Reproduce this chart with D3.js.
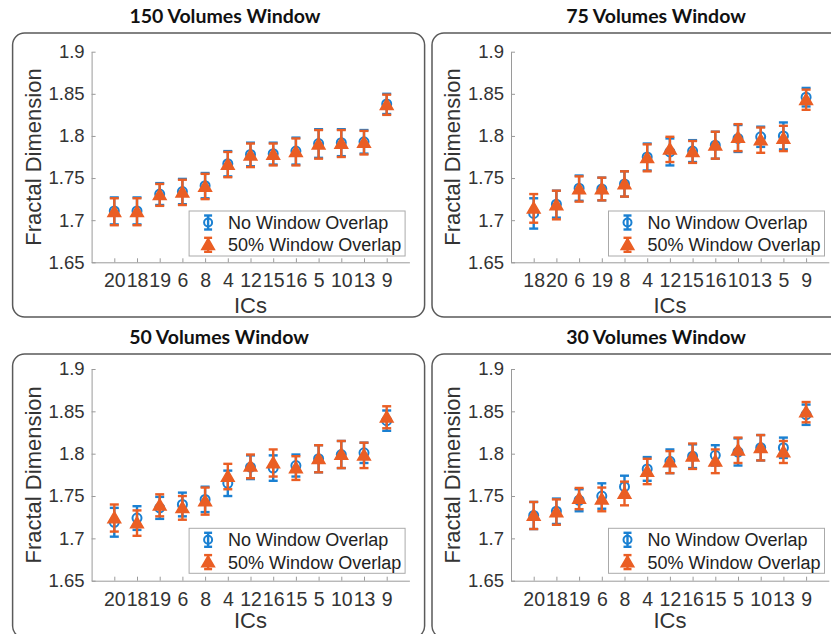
<!DOCTYPE html>
<html><head><meta charset="utf-8">
<script src="https://cdn.jsdelivr.net/npm/d3@7"></script>
<style>body{margin:0;background:#fff}svg{display:block}</style>
</head><body>
<script>
// ---------------- data ----------------
const titles = ["150 Volumes Window", "75 Volumes Window", "50 Volumes Window", "30 Volumes Window"];
const yTicks = [1.65, 1.7, 1.75, 1.8, 1.85, 1.9];
const yTickLabels = ["1.65", "1.7", "1.75", "1.8", "1.85", "1.9"];
const seriesNames = ["No Window Overlap", "50% Window Overlap"];

const icLabels150 = ["20","18","19","6","8","4","12","15","16","5","10","13","9"];
const noOverlap150 = [1.711,1.711,1.731,1.734,1.741,1.767,1.778,1.779,1.782,1.791,1.792,1.793,1.838];
const noOverlapErr150 = [0.016,0.016,0.013,0.015,0.015,0.015,0.014,0.013,0.016,0.017,0.016,0.014,0.012];
const overlap150 = [1.710,1.710,1.730,1.733,1.740,1.766,1.777,1.778,1.781,1.790,1.791,1.792,1.837];
const overlapErr150 = [0.016,0.016,0.013,0.015,0.015,0.015,0.014,0.013,0.016,0.017,0.016,0.014,0.012];

const icLabels75 = ["18","20","6","19","8","4","12","15","16","10","13","5","9"];
const noOverlap75 = [1.708,1.719,1.738,1.737,1.743,1.775,1.781,1.782,1.789,1.797,1.799,1.800,1.846];
const noOverlapErr75 = [0.018,0.016,0.015,0.0135,0.015,0.016,0.016,0.013,0.016,0.016,0.012,0.016,0.011];
const overlap75 = [1.714,1.718,1.737,1.737,1.743,1.774,1.784,1.781,1.789,1.798,1.795,1.797,1.843];
const overlapErr75 = [0.017,0.017,0.015,0.0135,0.015,0.016,0.015,0.013,0.016,0.016,0.015,0.015,0.012];

const icLabels50 = ["20","18","19","6","8","4","12","16","15","5","10","13","9"];
const noOverlap50 = [1.719,1.724,1.736,1.740,1.746,1.765,1.784,1.783,1.786,1.794,1.799,1.801,1.839];
const noOverlapErr50 = [0.017,0.014,0.013,0.014,0.015,0.015,0.014,0.015,0.013,0.016,0.016,0.012,0.012];
const overlap50 = [1.724,1.718,1.739,1.736,1.744,1.773,1.785,1.789,1.783,1.794,1.799,1.798,1.843];
const overlapErr50 = [0.016,0.015,0.013,0.014,0.016,0.015,0.014,0.016,0.014,0.016,0.016,0.015,0.013];

const icLabels30 = ["20","18","19","6","8","4","12","16","15","5","10","13","9"];
const noOverlap30 = [1.727,1.732,1.745,1.750,1.761,1.782,1.791,1.797,1.798,1.802,1.807,1.807,1.846];
const noOverlapErr30 = [0.016,0.015,0.013,0.015,0.013,0.014,0.014,0.014,0.012,0.016,0.015,0.012,0.012];
const overlap30 = [1.727,1.731,1.747,1.746,1.753,1.779,1.790,1.797,1.791,1.804,1.807,1.802,1.849];
const overlapErr30 = [0.016,0.015,0.0125,0.014,0.014,0.015,0.013,0.015,0.014,0.015,0.015,0.013,0.012];

const panels = [
  {title: titles[0], labels: icLabels150, a: noOverlap150, ae: noOverlapErr150, b: overlap150, be: overlapErr150},
  {title: titles[1], labels: icLabels75,  a: noOverlap75,  ae: noOverlapErr75,  b: overlap75,  be: overlapErr75},
  {title: titles[2], labels: icLabels50,  a: noOverlap50,  ae: noOverlapErr50,  b: overlap50,  be: overlapErr50},
  {title: titles[3], labels: icLabels30,  a: noOverlap30,  ae: noOverlapErr30,  b: overlap30,  be: overlapErr30}
];

// ---------------- layout ----------------
const W = 831, H = 634;
const colX = [91.6, 511];
const rows = [
  {titleY: 23, boxTop: 33, top: 51.7, bottom: 262.3, boxBottom: 317, icsY: 313},
  {titleY: 344, boxTop: 354, top: 369, bottom: 580.7, boxBottom: 638, icsY: 628}
];
const titleCx = [225, 656, 219, 656];
const step = 22.7;
const BLUE = "#1a80d2", ORANGE = "#ea5e24";
const tickFont = "'Liberation Sans', Arial, sans-serif";

const svg = d3.select("body").append("svg").attr("width", W).attr("height", H);
svg.append("rect").attr("width", W).attr("height", H).attr("fill", "#fff");

panels.forEach((p, i) => {
  const col = i % 2, row = rows[Math.floor(i / 2)];
  const ax = colX[col];
  const x = d3.scaleLinear().domain([0, 14]).range([ax, ax + 14 * step]);
  const y = d3.scaleLinear().domain([1.65, 1.9]).range([row.bottom, row.top]);
  const g = svg.append("g");

  // panel box
  g.append("rect")
    .attr("x", ax - 79).attr("y", row.boxTop)
    .attr("width", 412).attr("height", row.boxBottom - row.boxTop)
    .attr("rx", 12).attr("ry", 12)
    .attr("fill", "none").attr("stroke", "#5a5a5a").attr("stroke-width", 1.5);

  // title
  g.append("text").attr("x", titleCx[i]).attr("y", row.titleY)
    .attr("text-anchor", "middle")
    .style("font-family", "Lato, 'Open Sans', sans-serif").style("font-weight", 700)
    .style("font-size", "19.5px").attr("fill", "#111").text(p.title);

  // axes
  const xa = d3.axisBottom(x).tickValues(d3.range(1, 14))
    .tickFormat(d => p.labels[d - 1]).tickSizeInner(-4).tickSizeOuter(0).tickPadding(11);
  const gx = g.append("g").attr("transform", `translate(0,${row.bottom})`).call(xa);
  gx.select(".domain").attr("stroke", "#9a9a9a");
  gx.selectAll(".tick line").attr("stroke", "#9a9a9a");
  gx.selectAll("text").style("font-family", tickFont).style("font-size", "19.5px").attr("fill", "#333");

  const ya = d3.axisLeft(y).tickValues(yTicks)
    .tickFormat((d, k) => yTickLabels[k]).tickSizeInner(-4).tickSizeOuter(0).tickPadding(7);
  const gy = g.append("g").attr("transform", `translate(${ax},0)`).call(ya);
  gy.select(".domain").attr("stroke", "#9a9a9a");
  gy.selectAll(".tick line").attr("stroke", "#9a9a9a");
  gy.selectAll("text").style("font-family", tickFont).style("font-size", "18.5px").attr("fill", "#333");

  // axis labels
  g.append("text").attr("x", (x(0) + x(14)) / 2).attr("y", row.icsY)
    .attr("text-anchor", "middle").style("font-family", tickFont).style("font-size", "22px")
    .attr("fill", "#333").text("ICs");
  g.append("text")
    .attr("transform", `translate(${ax - 51},${(row.top + row.bottom) / 2}) rotate(-90)`)
    .attr("text-anchor", "middle").style("font-family", tickFont).style("font-size", "22px")
    .attr("fill", "#333").text("Fractal Dimension");

  // series
  const drawErr = (sel, vals, errs, color) => {
    vals.forEach((v, k) => {
      const cx = x(k + 1);
      const e = errs[k];
      sel.append("line").attr("x1", cx).attr("x2", cx).attr("y1", y(v - e)).attr("y2", y(v + e))
        .attr("stroke", color).attr("stroke-width", 2.4);
      [v - e, v + e].forEach(t => sel.append("line").attr("x1", cx - 4.5).attr("x2", cx + 4.5)
        .attr("y1", y(t)).attr("y2", y(t)).attr("stroke", color).attr("stroke-width", 2.4));
    });
  };
  const ga = g.append("g");
  drawErr(ga, p.a, p.ae, BLUE);
  ga.selectAll("circle").data(p.a).join("circle")
    .attr("cx", (d, k) => x(k + 1)).attr("cy", d => y(d)).attr("r", 4.5)
    .attr("fill", "none").attr("stroke", BLUE).attr("stroke-width", 2);
  const gb = g.append("g");
  drawErr(gb, p.b, p.be, ORANGE);
  const tri = d3.symbol().type(d3.symbolTriangle).size(70);
  gb.selectAll("path.tri").data(p.b).join("path").attr("class", "tri")
    .attr("transform", (d, k) => `translate(${x(k + 1)},${y(d) + 1})`)
    .attr("d", tri).attr("fill", ORANGE).attr("stroke", ORANGE).attr("stroke-width", 1.5);

  // legend
  const lx = ax + 97.5, ly = row.top + 159.3;
  const lg = g.append("g");
  lg.append("rect").attr("x", lx).attr("y", ly).attr("width", 216).attr("height", 45)
    .attr("fill", "#fff").attr("stroke", "#aaa").attr("stroke-width", 1);
  seriesNames.forEach((name, k) => {
    const cy = ly + 11.5 + k * 22.3;
    const mx = lx + 19;
    const color = k === 0 ? BLUE : ORANGE;
    lg.append("line").attr("x1", mx).attr("x2", mx).attr("y1", cy - 7).attr("y2", cy + 7)
      .attr("stroke", color).attr("stroke-width", 2.4);
    [cy - 7, cy + 7].forEach(t => lg.append("line").attr("x1", mx - 4).attr("x2", mx + 4)
      .attr("y1", t).attr("y2", t).attr("stroke", color).attr("stroke-width", 2.4));
    if (k === 0) {
      lg.append("circle").attr("cx", mx).attr("cy", cy).attr("r", 4)
        .attr("fill", "none").attr("stroke", BLUE).attr("stroke-width", 2);
    } else {
      lg.append("path").attr("transform", `translate(${mx},${cy + 1})`).attr("d", tri)
        .attr("fill", ORANGE).attr("stroke", ORANGE).attr("stroke-width", 1.5);
    }
    lg.append("text").attr("x", lx + 39).attr("y", cy + 6.5)
      .style("font-family", tickFont).style("font-size", "18px").attr("fill", "#222").text(name);
  });
});
</script>
</body></html>
